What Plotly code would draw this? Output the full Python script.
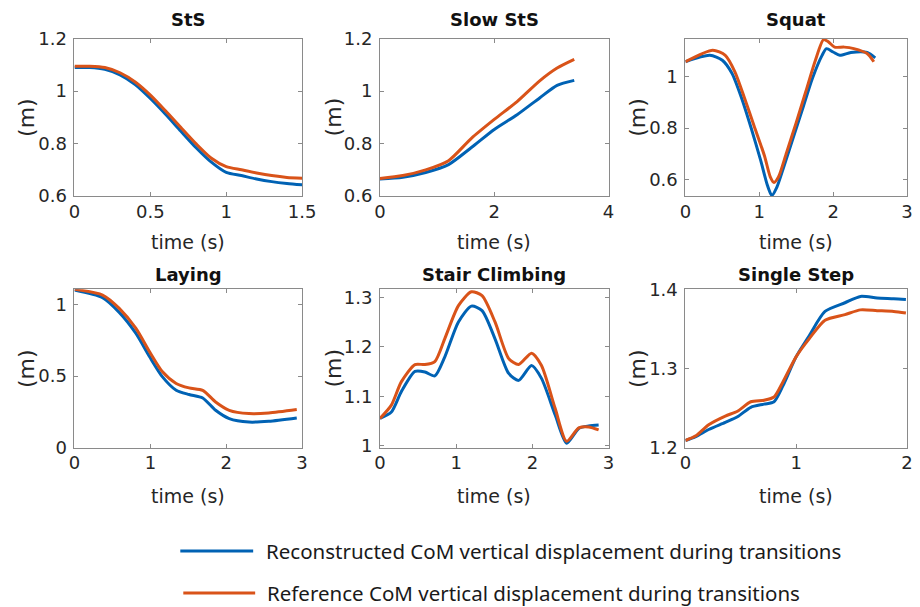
import plotly.graph_objects as go
from plotly.subplots import make_subplots

# ---------------- data ----------------
sts_t = [0, 0.1, 0.2, 0.3, 0.4, 0.5, 0.6, 0.7, 0.8, 0.9, 1.0, 1.1, 1.2, 1.3, 1.4, 1.5]
sts_rec = [1.090, 1.090, 1.083, 1.062, 1.025, 0.972, 0.912, 0.848, 0.785, 0.730, 0.690, 0.678, 0.665, 0.655, 0.648, 0.643]
sts_ref = [1.095, 1.095, 1.090, 1.070, 1.035, 0.985, 0.925, 0.862, 0.800, 0.745, 0.712, 0.700, 0.688, 0.678, 0.671, 0.668]

slow_t = [0, 0.4, 0.8, 1.2, 1.6, 2.0, 2.4, 2.8, 3.1, 3.4]
slow_rec = [0.665, 0.672, 0.690, 0.720, 0.785, 0.854, 0.910, 0.975, 1.022, 1.041]
slow_ref = [0.667, 0.678, 0.700, 0.735, 0.820, 0.892, 0.960, 1.040, 1.088, 1.121]

squat_t_rec = [0, 0.33, 0.50, 0.63, 0.76, 0.89, 1.02, 1.11, 1.17, 1.24, 1.33, 1.46, 1.59, 1.72, 1.85, 1.91, 2.0, 2.09, 2.24, 2.46, 2.57]
squat_rec = [1.058, 1.083, 1.064, 1.013, 0.917, 0.800, 0.673, 0.577, 0.537, 0.571, 0.647, 0.763, 0.878, 0.994, 1.083, 1.109, 1.096, 1.083, 1.094, 1.094, 1.073]
squat_t_ref = [0, 0.37, 0.54, 0.67, 0.80, 0.93, 1.07, 1.15, 1.20, 1.26, 1.37, 1.50, 1.63, 1.76, 1.87, 1.93, 2.02, 2.15, 2.28, 2.46, 2.55]
squat_ref = [1.058, 1.103, 1.083, 1.019, 0.917, 0.808, 0.692, 0.609, 0.588, 0.609, 0.705, 0.821, 0.942, 1.064, 1.144, 1.137, 1.115, 1.115, 1.109, 1.090, 1.058]

lay_t = [0, 0.37, 0.59, 0.81, 0.99, 1.16, 1.34, 1.51, 1.69, 1.86, 2.04, 2.30, 2.56, 2.93]
lay_rec = [1.100, 1.047, 0.944, 0.797, 0.634, 0.494, 0.401, 0.371, 0.347, 0.261, 0.203, 0.179, 0.184, 0.207]
lay_ref = [1.105, 1.065, 0.972, 0.832, 0.669, 0.529, 0.448, 0.417, 0.400, 0.319, 0.261, 0.238, 0.242, 0.266]

stair_t = [0, 0.15, 0.28, 0.46, 0.59, 0.72, 0.85, 1.03, 1.20, 1.34, 1.51, 1.69, 1.82, 1.99, 2.12, 2.30, 2.45, 2.61, 2.74, 2.87]
stair_rec = [1.055, 1.068, 1.109, 1.150, 1.149, 1.141, 1.179, 1.250, 1.282, 1.273, 1.216, 1.146, 1.132, 1.162, 1.136, 1.062, 1.005, 1.035, 1.040, 1.042]
stair_ref = [1.055, 1.082, 1.129, 1.164, 1.164, 1.170, 1.216, 1.283, 1.311, 1.303, 1.250, 1.176, 1.164, 1.187, 1.162, 1.075, 1.009, 1.036, 1.038, 1.032]

step_t = [0, 0.094, 0.21, 0.36, 0.47, 0.59, 0.71, 0.80, 0.88, 1.0, 1.12, 1.26, 1.44, 1.58, 1.73, 1.88, 1.99]
step_rec = [1.209, 1.214, 1.223, 1.232, 1.239, 1.251, 1.255, 1.258, 1.278, 1.315, 1.342, 1.372, 1.383, 1.391, 1.389, 1.388, 1.387]
step_ref = [1.209, 1.215, 1.229, 1.240, 1.246, 1.258, 1.260, 1.264, 1.283, 1.315, 1.338, 1.361, 1.368, 1.374, 1.373, 1.372, 1.370]

titles = ["StS", "Slow StS", "Squat", "Laying", "Stair Climbing", "Single Step"]
legend_labels = ["Reconstructed CoM vertical displacement during transitions",
                 "Reference CoM vertical displacement during transitions"]

BLUE = "#0062B4"
ORANGE = "#D95319"

W, H = 920, 607
# observed placement of the rendered figure inside the screenshot
X0, WR = 11.4, 901.6
Y0, HR = 18.4, 584.5
def px(x):
    return min(1.0, max(0.0, (x - X0) / WR))
def py(y):
    return min(1.0, max(0.0, 1 - (y - Y0) / HR))

fig = make_subplots(rows=2, cols=3)

panels = [
    (1, 1, sts_t, sts_rec, sts_t, sts_ref),
    (1, 2, slow_t, slow_rec, slow_t, slow_ref),
    (1, 3, squat_t_rec, squat_rec, squat_t_ref, squat_ref),
    (2, 1, lay_t, lay_rec, lay_t, lay_ref),
    (2, 2, stair_t, stair_rec, stair_t, stair_ref),
    (2, 3, step_t, step_rec, step_t, step_ref),
]
for r, c, tr, yr, tf, yf in panels:
    fig.add_trace(go.Scatter(x=tr, y=yr, mode="lines", line=dict(color=BLUE, width=3, shape="spline", smoothing=0.7),
                             showlegend=False, hoverinfo="skip"), row=r, col=c)
    fig.add_trace(go.Scatter(x=tf, y=yf, mode="lines", line=dict(color=ORANGE, width=3, shape="spline", smoothing=0.7),
                             showlegend=False, hoverinfo="skip"), row=r, col=c)

# plot area pixel boxes (left, right, top, bottom) as seen in the reference
col_x = [(72, 300), (378, 607), (684, 906)]
row_y = [(38, 195), (288, 446)]

xranges = [[0, 1.5], [0, 4], [0, 3], [0, 3], [0, 3], [0, 2]]
xticks = [[0, 0.5, 1, 1.5], [0, 2, 4], [0, 1, 2, 3], [0, 1, 2, 3], [0, 1, 2, 3], [0, 1, 2]]
yranges = [[0.6, 1.2], [0.6, 1.2], [0.535, 1.148], [0, 1.105], [0.996, 1.316], [1.2, 1.4]]
yticks = [[0.6, 0.8, 1, 1.2], [0.6, 0.8, 1, 1.2], [0.6, 0.8, 1], [0, 0.5, 1], [1, 1.1, 1.2, 1.3], [1.2, 1.3, 1.4]]

FONT = "DejaVu Sans"
TXT = "#262626"
AX = "#8a8a8a"

for i in range(6):
    r, c = divmod(i, 3)
    xl, xr = col_x[c]
    yt, yb = row_y[r]
    ax_common = dict(showline=True, linecolor=AX, linewidth=1, mirror="ticks", ticks="inside",
                     ticklen=4, tickcolor=AX, showgrid=False, zeroline=False,
                     tickfont=dict(family=FONT, size=18, color=TXT))
    fig.update_xaxes(domain=[px(xl), px(xr)], range=xranges[i], tickmode="array", tickvals=xticks[i],
                     ticklabelstandoff=-1, row=r + 1, col=c + 1, **ax_common)
    fig.update_yaxes(domain=[py(yb), py(yt)], range=yranges[i], tickmode="array", tickvals=yticks[i],
                     ticklabelstandoff=3, row=r + 1, col=c + 1, **ax_common)

annotations = []
title_y = [19, 273]
xlabel_y = [241, 494]
ylabel_x = [24, 331, 636]
for i in range(6):
    r, c = divmod(i, 3)
    xl, xr = col_x[c]
    yt, yb = row_y[r]
    cx = (xl + xr) / 2
    annotations.append(dict(x=px(cx), y=py(title_y[r]), xref="paper", yref="paper", text="<b>%s</b>" % titles[i],
                            showarrow=False, xanchor="center", yanchor="middle",
                            font=dict(family=FONT, size=18, color="#111111")))
    annotations.append(dict(x=px(cx), y=py(xlabel_y[r]), xref="paper", yref="paper", text="time (s)",
                            showarrow=False, xanchor="center", yanchor="middle",
                            font=dict(family=FONT, size=19, color=TXT)))
    annotations.append(dict(x=px(ylabel_x[c]), y=py((yt + yb) / 2), xref="paper", yref="paper", text="(m)",
                            showarrow=False, xanchor="center", yanchor="middle", textangle=-90,
                            font=dict(family=FONT, size=22, color=TXT)))

# legend (drawn manually to match the long sample lines)
leg = [(178, 251, 549, 262, BLUE, legend_labels[0]), (181, 253, 591, 263, ORANGE, legend_labels[1])]
shapes = []
for x0, x1, y, tx, col, lab in leg:
    shapes.append(dict(type="line", xref="paper", yref="paper", x0=px(x0), x1=px(x1), y0=py(y), y1=py(y),
                       line=dict(color=col, width=3)))
    annotations.append(dict(x=px(tx), y=py(y), xref="paper", yref="paper", text=lab, showarrow=False,
                            xanchor="left", yanchor="middle",
                            font=dict(family="Noto Sans", size=20.5, color="#1a1a1a")))

fig.update_layout(width=W, height=H, margin=dict(l=0, r=0, t=0, b=0),
                  paper_bgcolor="white", plot_bgcolor="white",
                  annotations=annotations, shapes=shapes, showlegend=False)

fig.write_html("out.html")
